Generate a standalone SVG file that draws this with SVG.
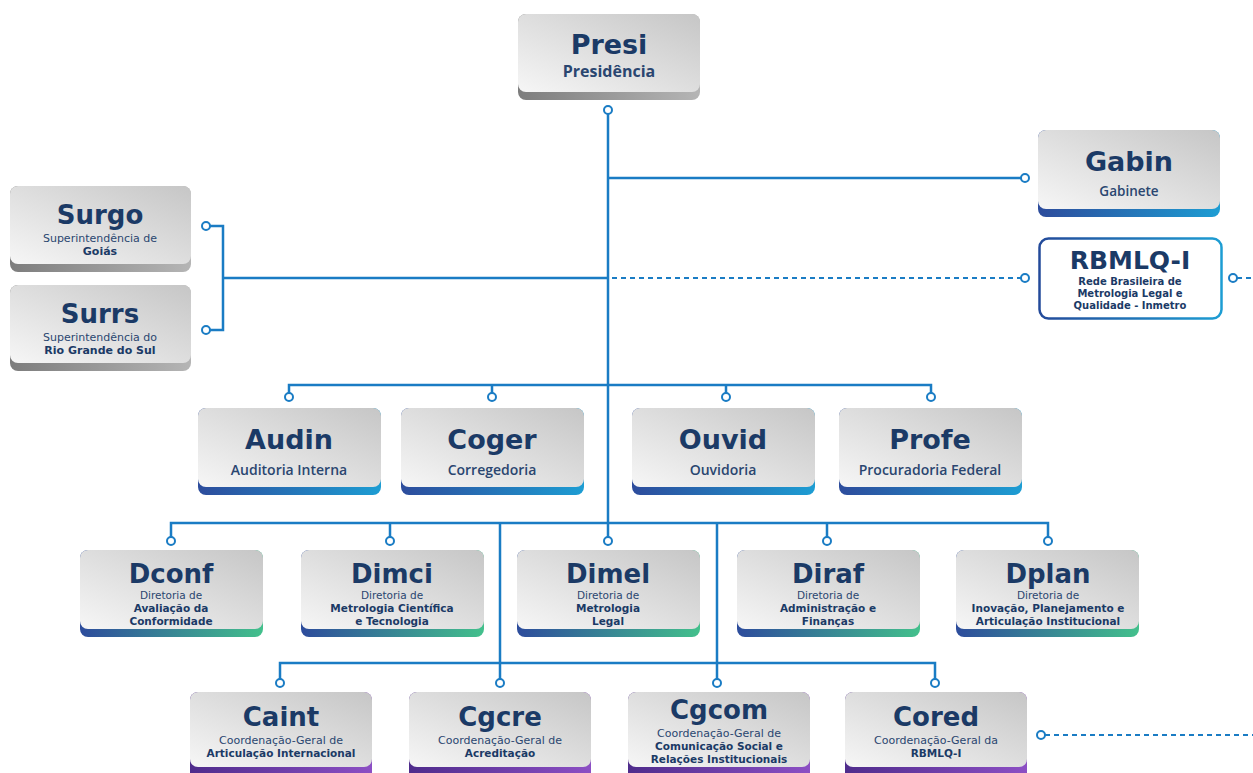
<svg xmlns="http://www.w3.org/2000/svg" width="1253" height="773" viewBox="0 0 1253 773">
<style>
.box{fill:url(#gGray)}
.t{font-family:"DejaVu Sans","Liberation Sans",sans-serif;font-weight:700;fill:#1b3a66;text-anchor:middle;font-size:26px}
.s{font-family:"DejaVu Sans","Liberation Sans",sans-serif;font-size:10.5px;fill:#2a4670;text-anchor:middle}
.sb{font-family:"DejaVu Sans","Liberation Sans",sans-serif;font-size:10.5px;font-weight:700;fill:#1b3a66;text-anchor:middle}
.sm{font-family:"Open Sans","Liberation Sans",sans-serif;font-size:14px;font-weight:600;fill:#2a4670;text-anchor:middle}
.ln{stroke:#1a7cc4;stroke-width:2.5;fill:none}
.dash{stroke:#1a7cc4;stroke-width:2;fill:none;stroke-dasharray:5 4}
.dot{fill:#fff;stroke:#1a7cc4;stroke-width:2}
</style>
<defs>
<linearGradient id="gGray" x1="0" y1="1" x2="1" y2="0">
<stop offset="0" stop-color="#f6f6f6"/><stop offset="1" stop-color="#c6c6c6"/>
</linearGradient>
<linearGradient id="gShadow" x1="0" y1="0" x2="1" y2="0">
<stop offset="0" stop-color="#7d7d7d"/><stop offset="1" stop-color="#b5b5b5"/>
</linearGradient>
<linearGradient id="gBlue" x1="0" y1="0" x2="1" y2="0">
<stop offset="0" stop-color="#2d4c9c"/><stop offset="1" stop-color="#1d9dd3"/>
</linearGradient>
<linearGradient id="gGreen" x1="0" y1="0" x2="1" y2="0">
<stop offset="0" stop-color="#2d4c9c"/><stop offset="1" stop-color="#43c08c"/>
</linearGradient>
<linearGradient id="gPurple" x1="0" y1="0" x2="1" y2="0">
<stop offset="0" stop-color="#4f2c8c"/><stop offset="1" stop-color="#8c4fc4"/>
</linearGradient>
<linearGradient id="gOutline" x1="0" y1="0" x2="1" y2="0">
<stop offset="0" stop-color="#234a9a"/><stop offset="1" stop-color="#1d9dd3"/>
</linearGradient>
</defs>

<g id="connectors">
<path class="ln" d="M608 114 V537"/>
<path class="ln" d="M608 178 H1021"/>
<path class="ln" d="M210 226 H223 V330 H210 M223 278 H608"/>
<path class="dash" d="M612 278 H1021"/>
<path class="dash" d="M1237 278 H1253"/>
<path class="ln" d="M289 393 V385 H931 V393 M492 385 V393 M726 385 V393"/>
<path class="ln" d="M171 537 V523 H1048 V537 M390 523 V537 M827 523 V537"/>
<path class="ln" d="M500 523 V663 M717 523 V663"/>
<path class="ln" d="M280 679 V663 H935 V679 M500 663 V679 M717 663 V679"/>
<path class="dash" d="M1045 735 H1253"/>
<circle class="dot" cx="608" cy="110" r="4"/>
<circle class="dot" cx="1025" cy="178" r="4"/>
<circle class="dot" cx="1025" cy="278" r="4"/>
<circle class="dot" cx="1233" cy="278" r="4"/>
<circle class="dot" cx="206" cy="226" r="4"/>
<circle class="dot" cx="206" cy="330" r="4"/>
<circle class="dot" cx="289" cy="397" r="4"/>
<circle class="dot" cx="492" cy="397" r="4"/>
<circle class="dot" cx="726" cy="397" r="4"/>
<circle class="dot" cx="931" cy="397" r="4"/>
<circle class="dot" cx="171" cy="541" r="4"/>
<circle class="dot" cx="390" cy="541" r="4"/>
<circle class="dot" cx="608" cy="541" r="4"/>
<circle class="dot" cx="827" cy="541" r="4"/>
<circle class="dot" cx="1048" cy="541" r="4"/>
<circle class="dot" cx="280" cy="683" r="4"/>
<circle class="dot" cx="500" cy="683" r="4"/>
<circle class="dot" cx="717" cy="683" r="4"/>
<circle class="dot" cx="935" cy="683" r="4"/>
<circle class="dot" cx="1041" cy="735" r="4"/>
</g>

<g id="presi">
<rect x="518" y="14" width="182" height="86" rx="8" fill="url(#gShadow)"/>
<rect class="box" x="518" y="14" width="182" height="78" rx="8"/>
<text class="t" x="609" y="54" style="font-size:27px">Presi</text>
<text class="sm" x="609" y="77" style="font-size:16px;font-weight:700">Presidência</text>
</g>

<g id="gabin">
<rect x="1038" y="130" width="182" height="87" rx="8" fill="url(#gBlue)"/>
<rect class="box" x="1038" y="130" width="182" height="79" rx="8"/>
<text class="t" x="1129" y="171" style="font-size:27px">Gabin</text>
<text class="sm" x="1129" y="196" style="font-size:13.5px">Gabinete</text>
</g>

<g id="rbmlq">
<rect x="1039.5" y="238.5" width="182" height="80" rx="9" fill="#fff" stroke="url(#gOutline)" stroke-width="2.5"/>
<text class="t" x="1130" y="269" style="font-size:25px">RBMLQ-I</text>
<text class="sb" x="1130" y="285" style="font-size:10px">Rede Brasileira de</text>
<text class="sb" x="1130" y="297" style="font-size:10px">Metrologia Legal e</text>
<text class="sb" x="1130" y="309" style="font-size:10px">Qualidade - Inmetro</text>
</g>

<g id="surgo">
<rect x="10" y="186" width="181" height="86" rx="8" fill="url(#gShadow)"/>
<rect class="box" x="10" y="186" width="181" height="78" rx="8"/>
<text class="t" x="100" y="224">Surgo</text>
<text class="s" x="100" y="242" style="font-size:11px">Superintendência de</text>
<text class="sb" x="100" y="255" style="font-size:11px">Goiás</text>
</g>

<g id="surrs">
<rect x="10" y="285" width="181" height="86" rx="8" fill="url(#gShadow)"/>
<rect class="box" x="10" y="285" width="181" height="78" rx="8"/>
<text class="t" x="100" y="323">Surrs</text>
<text class="s" x="100" y="341" style="font-size:11px">Superintendência do</text>
<text class="sb" x="100" y="354" style="font-size:11px">Rio Grande do Sul</text>
</g>

<g id="audin">
<rect x="198" y="408" width="183" height="87" rx="8" fill="url(#gBlue)"/>
<rect class="box" x="198" y="408" width="183" height="79" rx="8"/>
<text class="t" x="289" y="449" style="font-size:27px">Audin</text>
<text class="sm" x="289" y="475">Auditoria Interna</text>
</g>
<g id="coger">
<rect x="401" y="408" width="183" height="87" rx="8" fill="url(#gBlue)"/>
<rect class="box" x="401" y="408" width="183" height="79" rx="8"/>
<text class="t" x="492" y="449" style="font-size:27px">Coger</text>
<text class="sm" x="492" y="475">Corregedoria</text>
</g>
<g id="ouvid">
<rect x="632" y="408" width="183" height="87" rx="8" fill="url(#gBlue)"/>
<rect class="box" x="632" y="408" width="183" height="79" rx="8"/>
<text class="t" x="723" y="449" style="font-size:27px">Ouvid</text>
<text class="sm" x="723" y="475">Ouvidoria</text>
</g>
<g id="profe">
<rect x="839" y="408" width="183" height="87" rx="8" fill="url(#gBlue)"/>
<rect class="box" x="839" y="408" width="183" height="79" rx="8"/>
<text class="t" x="930" y="449" style="font-size:27px">Profe</text>
<text class="sm" x="930" y="475">Procuradoria Federal</text>
</g>

<g id="dconf">
<rect x="80" y="550" width="183" height="87" rx="8" fill="url(#gGreen)"/>
<rect class="box" x="80" y="550" width="183" height="79" rx="8"/>
<text class="t" x="171" y="583">Dconf</text>
<text class="s" x="171" y="599">Diretoria de</text>
<text class="sb" x="171" y="612">Avaliação da</text>
<text class="sb" x="171" y="625">Conformidade</text>
</g>
<g id="dimci">
<rect x="301" y="550" width="183" height="87" rx="8" fill="url(#gGreen)"/>
<rect class="box" x="301" y="550" width="183" height="79" rx="8"/>
<text class="t" x="392" y="583">Dimci</text>
<text class="s" x="392" y="599">Diretoria de</text>
<text class="sb" x="392" y="612">Metrologia Científica</text>
<text class="sb" x="392" y="625">e Tecnologia</text>
</g>
<g id="dimel">
<rect x="517" y="550" width="183" height="87" rx="8" fill="url(#gGreen)"/>
<rect class="box" x="517" y="550" width="183" height="79" rx="8"/>
<text class="t" x="608" y="583">Dimel</text>
<text class="s" x="608" y="599">Diretoria de</text>
<text class="sb" x="608" y="612">Metrologia</text>
<text class="sb" x="608" y="625">Legal</text>
</g>
<g id="diraf">
<rect x="737" y="550" width="183" height="87" rx="8" fill="url(#gGreen)"/>
<rect class="box" x="737" y="550" width="183" height="79" rx="8"/>
<text class="t" x="828" y="583">Diraf</text>
<text class="s" x="828" y="599">Diretoria de</text>
<text class="sb" x="828" y="612">Administração e</text>
<text class="sb" x="828" y="625">Finanças</text>
</g>
<g id="dplan">
<rect x="956" y="550" width="183" height="87" rx="8" fill="url(#gGreen)"/>
<rect class="box" x="956" y="550" width="183" height="79" rx="8"/>
<text class="t" x="1048" y="583">Dplan</text>
<text class="s" x="1048" y="599">Diretoria de</text>
<text class="sb" x="1048" y="612">Inovação, Planejamento e</text>
<text class="sb" x="1048" y="625">Articulação Institucional</text>
</g>

<g id="caint">
<rect x="190" y="692" width="182" height="88" rx="8" fill="url(#gPurple)"/>
<rect class="box" x="190" y="692" width="182" height="75" rx="8"/>
<text class="t" x="281" y="726">Caint</text>
<text class="s" x="281" y="744" style="font-size:11px">Coordenação-Geral de</text>
<text class="sb" x="281" y="757">Articulação Internacional</text>
</g>
<g id="cgcre">
<rect x="409" y="692" width="182" height="88" rx="8" fill="url(#gPurple)"/>
<rect class="box" x="409" y="692" width="182" height="75" rx="8"/>
<text class="t" x="500" y="726">Cgcre</text>
<text class="s" x="500" y="744" style="font-size:11px">Coordenação-Geral de</text>
<text class="sb" x="500" y="757">Acreditação</text>
</g>
<g id="cgcom">
<rect x="628" y="692" width="182" height="88" rx="8" fill="url(#gPurple)"/>
<rect class="box" x="628" y="692" width="182" height="75" rx="8"/>
<text class="t" x="719" y="719">Cgcom</text>
<text class="s" x="719" y="737" style="font-size:11px">Coordenação-Geral de</text>
<text class="sb" x="719" y="750">Comunicação Social e</text>
<text class="sb" x="719" y="763">Relações Institucionais</text>
</g>
<g id="cored">
<rect x="845" y="692" width="182" height="88" rx="8" fill="url(#gPurple)"/>
<rect class="box" x="845" y="692" width="182" height="75" rx="8"/>
<text class="t" x="936" y="726">Cored</text>
<text class="s" x="936" y="744" style="font-size:11px">Coordenação-Geral da</text>
<text class="sb" x="936" y="757">RBMLQ-I</text>
</g>
</svg>
